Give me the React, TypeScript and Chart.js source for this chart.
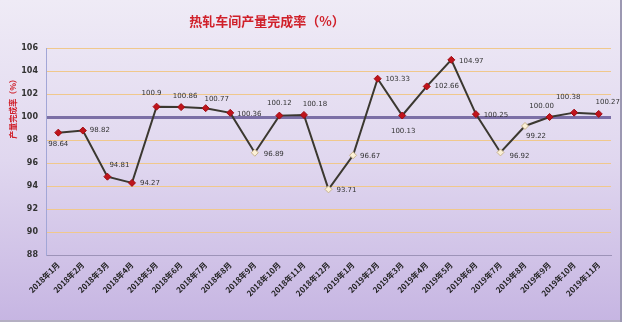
import React, { useEffect, useRef } from "react";
import { Chart, registerables } from "chart.js";
Chart.register(...registerables);

const months = [
  "2018年1月","2018年2月","2018年3月","2018年4月","2018年5月","2018年6月","2018年7月","2018年8月","2018年9月","2018年10月","2018年11月","2018年12月",
  "2019年1月","2019年2月","2019年3月","2019年4月","2019年5月","2019年6月","2019年7月","2019年8月","2019年9月","2019年10月","2019年11月",
];
const rates = [98.64, 98.82, 94.81, 94.27, 100.9, 100.86, 100.77, 100.36, 96.89, 100.12, 100.18, 93.71, 96.67, 103.33, 100.13, 102.66, 104.97, 100.25, 96.92, 99.22, 100.0, 100.38, 100.27];
const rateLabels = ["98.64","98.82","94.81","94.27","100.9","100.86","100.77","100.36","96.89","100.12","100.18","93.71","96.67","103.33","100.13","102.66","104.97","100.25","96.92","99.22","100.00","100.38","100.27"];
const hollowMarker = [false,false,false,false,false,false,false,false,true,false,false,true,true,false,false,false,false,false,true,true,false,false,false];
// label centre offsets from each point, in px
const labelOffsets: [number, number][] = [
  [0, 12], [17, 0], [12, -11], [18, 0], [-5, -13], [4, -11], [11, -9], [19, 1], [19, 1], [0, -12], [11, -11], [18, 1],
  [17, 1], [20, 0], [1, 16], [20, 0], [20, 1], [20, 1], [19, 4], [11, 10], [-8, -11], [-6, -15], [9, -12],
];
const yTicks = [88, 90, 92, 94, 96, 98, 100, 102, 104, 106];
const chartTitle = "热轧车间产量完成率（%）";
const yTitle = "产量完成率（%）";

export default function App() {
  const ref = useRef<HTMLCanvasElement>(null);
  useEffect(() => {
    document.body.style.margin = "0";
    const deco = {
      id: "deco",
      beforeDraw(chart: any) {
        const { ctx, width, height } = chart;
        const g = ctx.createLinearGradient(0, 0, 0, height);
        g.addColorStop(0, "#efebf6");
        g.addColorStop(0.5, "#e0d7ef");
        g.addColorStop(1, "#c6b5e2");
        ctx.save();
        ctx.fillStyle = g;
        ctx.fillRect(0, 0, width, height);
        ctx.fillStyle = "#b4afc2";
        ctx.fillRect(0, height - 2, width, 2);
        ctx.fillStyle = "#9c98b2";
        ctx.fillRect(width - 2, 0, 2, height);
        ctx.restore();
      },
      afterDraw(chart: any) {
        const { ctx } = chart;
        ctx.save();
        ctx.fillStyle = "#d0202a";
        ctx.font = "bold 13px 'Noto Sans CJK SC'";
        ctx.textAlign = "center";
        ctx.textBaseline = "middle";
        ctx.fillText(chartTitle, 267, 21);
        ctx.translate(13, 107);
        ctx.rotate(-Math.PI / 2);
        ctx.font = "bold 8px 'Noto Sans CJK SC'";
        ctx.fillText(yTitle, 0, 0);
        ctx.restore();
        const meta = chart.getDatasetMeta(0);
        ctx.save();
        ctx.fillStyle = "#333";
        ctx.font = "7px 'DejaVu Sans'";
        ctx.textAlign = "center";
        ctx.textBaseline = "middle";
        meta.data.forEach((p: any, i: number) => {
          const [dx, dy] = labelOffsets[i];
          ctx.fillText(rateLabels[i], p.x + dx, p.y + dy);
        });
        ctx.restore();
      },
    };
    const chart = new Chart(ref.current!, {
      type: "line",
      data: {
        labels: months,
        datasets: [{
          data: rates,
          borderColor: "#3b3830",
          borderWidth: 2,
          tension: 0,
          pointStyle: "rectRot",
          pointRadius: 3.5,
          pointBackgroundColor: hollowMarker.map(h => (h ? "#fbf0d6" : "#c0141c")),
          pointBorderColor: hollowMarker.map(h => (h ? "#c9b48e" : "#a00d14")),
          pointBorderWidth: 1,
        }],
      },
      options: {
        animation: false,
        responsive: false,
        layout: { padding: { top: 48, right: 11, left: 0, bottom: 0 } },
        plugins: { legend: { display: false }, tooltip: { enabled: false }, title: { display: false } },
        scales: {
          x: {
            offset: true,
            grid: { display: false, drawTicks: false },
            border: { color: "#9d93b8", width: 1 },
            ticks: { minRotation: 45, maxRotation: 45, autoSkip: false, color: "#222", font: { family: "'Noto Sans CJK SC'", size: 8, weight: "bold" }, padding: 5 },
            afterFit(scale: any) { scale.height = 67; },
          },
          y: {
            min: 88, max: 106,
            afterBuildTicks(scale: any) { scale.ticks = yTicks.map(v => ({ value: v })); },
            grid: {
              color: (c: any) => (c.tick && c.tick.value === 100 ? "#7b6fa6" : c.tick && c.tick.value === 88 ? "#9d93b8" : "#f0c88c"),
              lineWidth: (c: any) => (c.tick && c.tick.value === 100 ? 3 : 1),
              drawTicks: false,
            },
            border: { color: "#a2a6d6", width: 1 },
            ticks: { color: "#333", font: { family: "'DejaVu Sans'", size: 8, weight: "bold" }, padding: 8 },
            afterFit(scale: any) { scale.width = 46; },
          },
        },
      },
      plugins: [deco],
    } as any);
    return () => chart.destroy();
  }, []);
  return <canvas ref={ref} width={622} height={322} style={{ display: "block" }} />;
}
